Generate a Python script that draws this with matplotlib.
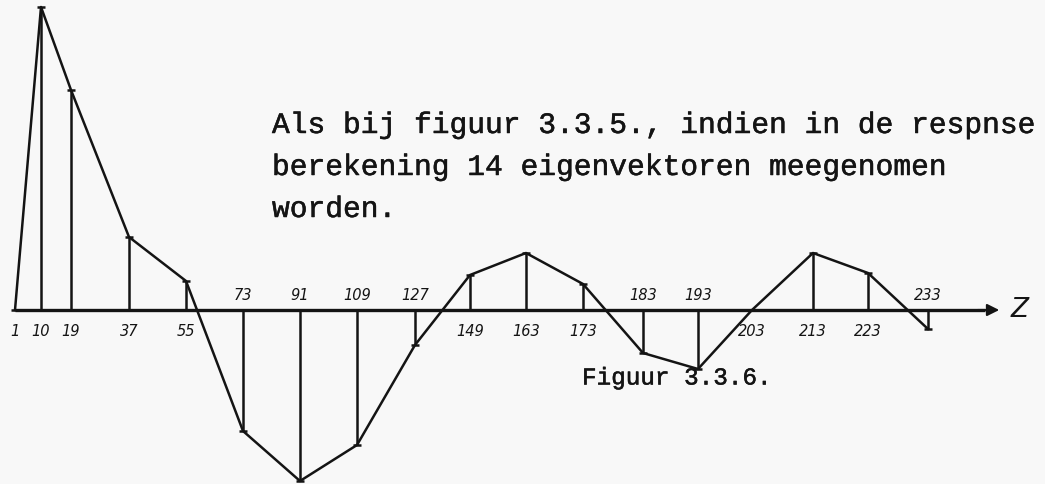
import matplotlib.pyplot as plt
import matplotlib.patheffects as pe

# nodes along Z and the response amplitude at each node
nodes = [1, 10, 19, 37, 55, 73, 91, 109, 127, 149, 163, 173, 183, 193, 203, 213, 223, 233]
response = [0, 303, 220, 73, 29, -121, -171, -135, -35, 35, 57, 26, -43, -59, 0, 57, 37, -19]
# where each node sits along the drawn Z axis
station_x = [15, 41, 71, 129, 186, 243, 300, 357, 415, 470, 526, 583, 643, 698, 752, 813, 868, 928]

caption = ["Als bij figuur 3.3.5., indien in de respnse",
           "berekening 14 eigenvektoren meegenomen",
           "worden."]
fig_title = "Figuur 3.3.6."

ink = '#141414'
paper = '#f8f8f8'
typed = [pe.withStroke(linewidth=0.35, foreground=ink)]

fig = plt.figure(figsize=(10.45, 4.84), dpi=100, facecolor=paper)
ax = fig.add_axes([0, 0, 1, 1])
ax.set_facecolor(paper)
ax.set_xlim(0, 1045)
ax.set_ylim(-174, 310)
ax.axis('off')

# Z axis with arrow
ax.plot([station_x[0], 985], [0, 0], color=ink, lw=2.4, solid_capstyle='butt')
ax.annotate('', xy=(1002, 0), xytext=(975, 0),
            arrowprops=dict(arrowstyle='-|>', color=ink, lw=1.5, mutation_scale=18))
ax.text(1020, 0, 'Z', fontsize=19, style='italic', color=ink, ha='center', va='center')

# stems and the connecting polygon
ax.vlines(station_x, 0, response, colors=ink, lw=1.8)
ax.plot(station_x, response, color=ink, lw=1.8)
ax.plot(station_x, response, ls='none', marker='_', ms=6, mew=1.8, color=ink)

# node numbers, written on the side opposite to the ordinate
for x, n, v in zip(station_x, nodes, response):
    if v < 0:
        ax.text(x, 15, str(n), fontsize=10.5, style='italic', color=ink,
                ha='center', va='center')
    else:
        ax.text(x, -21, str(n), fontsize=10.5, style='italic', color=ink,
                ha='center', va='center')

# typed caption
for i, line in enumerate(caption):
    ax.text(272, 185 - i * 42, line, fontsize=21.3, family='Liberation Mono',
            color=ink, ha='left', va='center', path_effects=typed)
ax.text(582, -68, fig_title, fontsize=17.5, family='Liberation Mono',
        color=ink, ha='left', va='center', path_effects=typed)

fig.savefig('out.png', dpi=100, facecolor=paper)
